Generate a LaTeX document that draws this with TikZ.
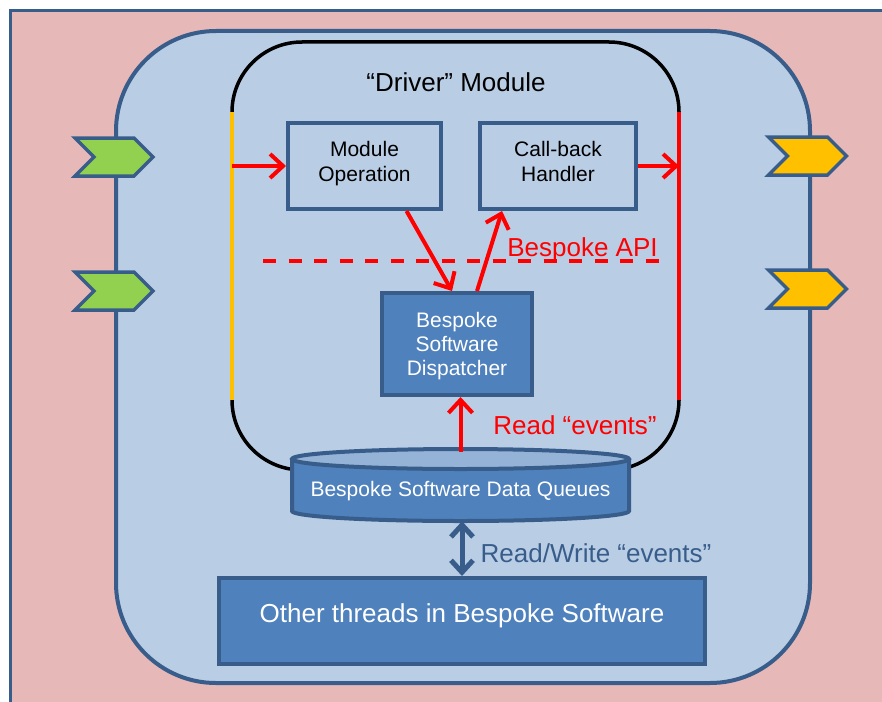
\documentclass[tikz,border=0pt]{standalone}
\usepackage{fontspec}
\setmainfont{Liberation Sans}
\usepackage{tikz}
\usetikzlibrary{arrows.meta}
\usetikzlibrary{positioning,calc}
\usetikzlibrary{shapes.symbols}
\definecolor{framepink}{HTML}{E6B9B8}
\definecolor{shellblue}{HTML}{B9CDE5}
\definecolor{edgeblue}{HTML}{385D8A}
\definecolor{boxblue}{HTML}{4F81BD}
\definecolor{topblue}{HTML}{95B3D7}
\definecolor{portgreen}{HTML}{92D050}
\definecolor{portorange}{HTML}{FFC000}
\tikzset{
    opbox/.style={
        draw=edgeblue,
        line width=4pt,
        fill=shellblue,
        inner sep=0pt,
        align=center,
        text height=40pt,
        text depth=10pt,
        font=\fontsize{21}{25}\selectfont
    },
    solidbox/.style={
        draw=edgeblue,
        line width=4pt,
        fill=boxblue,
        text=white,
        inner sep=0pt,
        align=center
    },
    inport/.style={
        signal,
        signal from=west,
        signal to=east,
        draw=edgeblue,
        line width=3.5pt,
        fill=portgreen,
        minimum width=78pt,
        minimum height=38pt,
        inner sep=0pt
    },
    outport/.style={
        inport,
        fill=portorange
    },
    redarrow/.style={
        draw=red,
        line width=4pt,
        -{Straight Barb[length=13pt, width=24pt]}
    },
    rwarrow/.style={
        draw=edgeblue,
        line width=5pt,
        {Straight Barb[length=12pt, width=22pt]}-{Straight Barb[length=12pt, width=22pt]}
    },
    bigtext/.style={font=\fontsize{26}{30}\selectfont}
}

\begin{document}
\begin{tikzpicture}[x=1pt, y=-1pt]
  \useasboundingbox (0,0) rectangle (882,701);
  \clip (0,0) rectangle (882,701);

  % Outer frame
  \draw[edgeblue, line width=3pt, fill=framepink] (10,11) rectangle (960,780);

  % Software shell and driver module
  \node[draw=edgeblue, line width=4pt, fill=shellblue, rounded corners=100pt,
        minimum width=694pt, minimum height=652pt] (shell) at (463,357) {};
  \node[draw=black, line width=3.5pt, rounded corners=70pt, outer sep=0pt,
        minimum width=447pt, minimum height=428pt] (driver) at (455.5,256) {};
  \draw[portorange, line width=3.5pt] ($(driver.north west)+(0,70)$) -- ($(driver.south west)+(0,-70)$);
  \draw[red, line width=3.5pt] ($(driver.north east)+(0,70)$) -- ($(driver.south east)+(0,-70)$);
  \node[bigtext] (title) at (456,82.5) {“Driver” Module};

  % Boxes
  \node[opbox, minimum width=153pt, minimum height=86pt] (mod) at (364.5,166) {Module\\Operation};
  \node[opbox, minimum width=156pt, minimum height=86pt] (cbh) at (558,166) {Call-back\\Handler};
  \node[solidbox, font=\fontsize{21}{24}\selectfont, text height=63pt, text depth=1pt,
        minimum width=150pt, minimum height=102pt] (disp) at (457,344) {Bespoke\\Software\\Dispatcher};

  % API boundary
  \draw[red, line width=4pt, dash pattern=on 13pt off 12.5pt] (263,261) -- (659,261);
  \node[bigtext, text=red] (api) at (582.5,249.5) {Bespoke API};

  % Data queues
  \fill[boxblue] (292,459) -- (292,511) arc[start angle=180, end angle=360, x radius=168.5pt, y radius=10pt]
    -- (629,459) -- cycle;
  \draw[edgeblue, line width=4pt] (292,459) -- (292,511) arc[start angle=180, end angle=360, x radius=168.5pt, y radius=10pt]
    -- (629,459);
  \draw[edgeblue, line width=4pt, fill=topblue] (460.5,459) ellipse[x radius=168.5pt, y radius=10pt];
  \node[text=white, font=\fontsize{21}{25}\selectfont, text height=22pt, text depth=0pt,
        minimum width=337pt, minimum height=52pt, inner sep=0pt] (queues) at (460.5,485) {Bespoke Software Data Queues};

  \node[solidbox, bigtext, text depth=16pt,
        minimum width=486pt, minimum height=86pt] (other) at (462,621) {Other threads in Bespoke Software};

  % Arrows
  \draw[redarrow] (driver.west |- mod.west) -- (mod.west);
  \draw[redarrow] (cbh.east) -- (driver.east |- cbh.east);
  \draw[redarrow] ($(mod.south)+(42,0)$) -- ($(disp.north)+(-5,0)$);
  \draw[redarrow] ($(disp.north)+(20,0)$) -- ($(cbh.south)+(-56,0)$);
  \draw[redarrow] ($(queues.north)+(0,-7)$) -- (queues.north |- disp.south);
  \draw[rwarrow] ($(other.north |- queues.south)+(0,10)$) -- (other.north);

  % Labels
  \node[bigtext, text=red] (readlbl) at (575,425.5) {Read “events”};
  \node[bigtext, text=edgeblue] (rwlbl) at (596,553.5) {Read/Write “events”};

  % Ports
  \node[inport] (in1) at (114,157) {};
  \node[inport] (in2) at (114,291) {};
  \node[outport] (out1) at (807.5,156) {};
  \node[outport] (out2) at (807.5,289) {};
\end{tikzpicture}
\end{document}
